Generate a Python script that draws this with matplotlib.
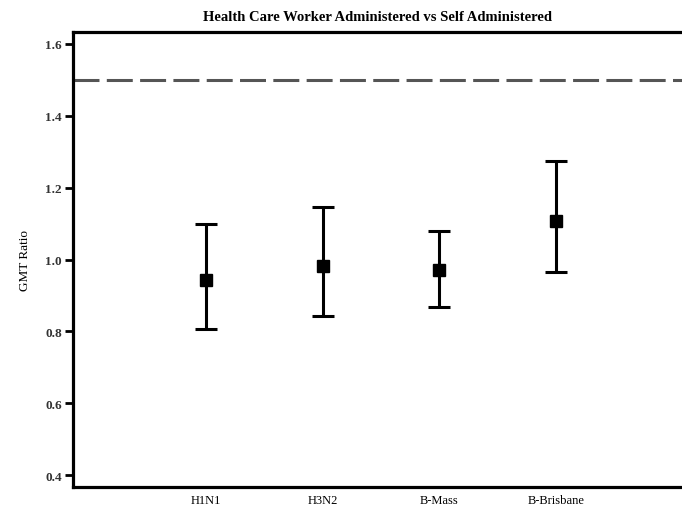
import matplotlib
matplotlib.use("Agg")
import matplotlib.pyplot as plt
import numpy as np

# GMT ratio (health care worker / self administered) with 95% CI
strains = ["H1N1", "H3N2", "B-Mass", "B-Brisbane"]
gmt_ratio = [0.944, 0.983, 0.971, 1.108]
ci_lower = [0.806, 0.844, 0.869, 0.964]
ci_upper = [1.099, 1.145, 1.080, 1.274]
y_ticks = [0.4, 0.6, 0.8, 1.0, 1.2, 1.4, 1.6]
margin_line = 1.5

plt.rcParams["font.family"] = ["Liberation Serif", "DejaVu Serif"]

fig = plt.figure(figsize=(6.82, 5.10), dpi=100)
ax = fig.add_axes([73 / 682, 1 - 488 / 510, 1 - 73 / 682, (488 - 33) / 510])

x = np.arange(len(strains))
ratio = np.array(gmt_ratio)
yerr = [ratio - np.array(ci_lower), np.array(ci_upper) - ratio]

ax.errorbar(x, ratio, yerr=yerr, fmt="s", color="black", ecolor="black",
            markersize=8.5, elinewidth=2.2, capsize=8, capthick=2.2,
            zorder=3)

ax.axhline(margin_line, color="#555555", linewidth=2.2,
           dashes=(8.5, 2.4), zorder=2)

ax.set_xlim(-1.14, 4.08)
ax.set_ylim(0.368, 1.632)
ax.set_xticks(x)
ax.set_xticklabels(strains, fontsize=9)
ax.set_yticks(y_ticks)
ax.set_yticklabels([f"{v:.1f}" for v in y_ticks], fontsize=9.5,
                   fontweight="bold", color="#333333")
ax.tick_params(axis="x", length=0, pad=5)
ax.tick_params(axis="y", length=6, width=2, pad=2)

for side in ["left", "top", "bottom"]:
    ax.spines[side].set_linewidth(2.3)
ax.spines["right"].set_visible(False)

ax.set_ylabel("GMT Ratio", fontsize=9.5, labelpad=10)
ax.set_title("Health Care Worker Administered vs Self Administered",
             fontsize=10.5, fontweight="bold", pad=9)

fig.savefig("out.png", dpi=100)
